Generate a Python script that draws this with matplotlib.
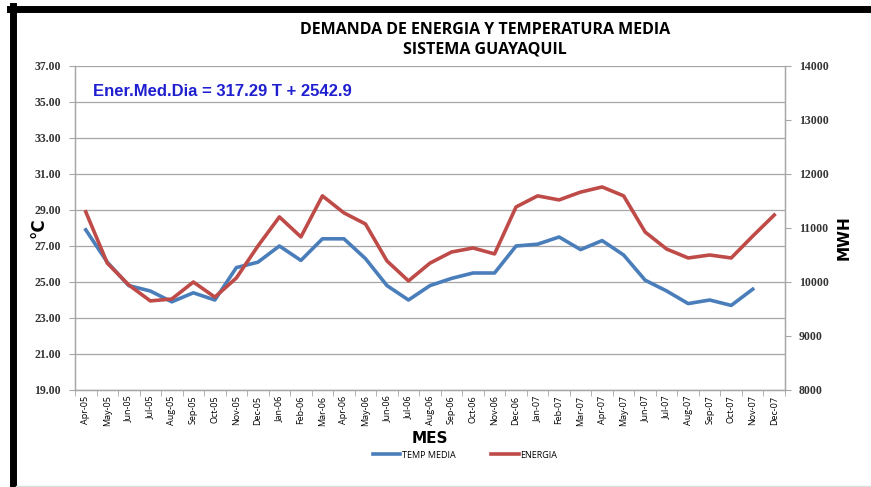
import matplotlib.pyplot as plt
from matplotlib.lines import Line2D

meses = ['Apr-05', 'May-05', 'Jun-05', 'Jul-05', 'Aug-05', 'Sep-05', 'Oct-05', 'Nov-05',
         'Dec-05', 'Jan-06', 'Feb-06', 'Mar-06', 'Apr-06', 'May-06', 'Jun-06', 'Jul-06',
         'Aug-06', 'Sep-06', 'Oct-06', 'Nov-06', 'Dec-06', 'Jan-07', 'Feb-07', 'Mar-07',
         'Apr-07', 'May-07', 'Jun-07', 'Jul-07', 'Aug-07', 'Sep-07', 'Oct-07', 'Nov-07',
         'Dec-07']

# temperatura media (C), no hay dato para Dec-07
temp_media = [27.9, 26.1, 24.8, 24.5, 23.9, 24.4, 24.0, 25.8, 26.1, 27.0, 26.2, 27.4,
              27.4, 26.3, 24.8, 24.0, 24.8, 25.2, 25.5, 25.5, 27.0, 27.1, 27.5, 26.8,
              27.3, 26.5, 25.1, 24.5, 23.8, 24.0, 23.7, 24.6]

# energia media diaria (MWH)
energia = [11300, 10350, 9945, 9650, 9685, 10000, 9720, 10075, 10665, 11205, 10835, 11595,
           11280, 11075, 10390, 10020, 10350, 10555, 10630, 10520, 11390, 11595, 11520, 11665,
           11760, 11595, 10925, 10610, 10445, 10500, 10445, 10850, 11240]

azul = '#4A7EBB'
rojo = '#BE4B48'
gris = '#A6A6A6'

fig = plt.figure(figsize=(8.71, 4.87), dpi=100)
ax = fig.add_axes([75/871, 97/487, 710/871, 324/487])
ax2 = ax.twinx()

x = list(range(len(meses)))
l1, = ax.plot(x[:len(temp_media)], temp_media, color=azul, lw=2.6, solid_joinstyle='round')
l2, = ax2.plot(x, energia, color=rojo, lw=2.6, solid_joinstyle='round')

ax.set_xlim(-0.5, len(meses) - 0.5)
ax.set_ylim(19, 37)
ax.set_yticks([19 + 2*i for i in range(10)])
ax.set_yticklabels(['%.2f' % (19 + 2*i) for i in range(10)], family='Liberation Serif',
                   fontsize=8.5, fontweight='bold', color='#333333')
ax.yaxis.grid(True, color=gris, lw=0.9)
ax.set_axisbelow(True)

ax2.set_ylim(8000, 14000)
ax2.set_yticks(range(8000, 14001, 1000))
ax2.set_yticklabels([str(v) for v in range(8000, 14001, 1000)], family='Liberation Serif',
                    fontsize=8.5, fontweight='bold', color='#333333')

ax.set_xticks(x)
ax.set_xticklabels(meses, rotation=90, fontsize=6.5, family='Open Sans')
ax.set_xticks([i - 0.5 for i in range(len(meses) + 1)], minor=True)
ax.tick_params(axis='x', which='major', length=0, pad=4)
ax.tick_params(axis='x', which='minor', length=4, color=gris)
ax.tick_params(axis='y', length=4, color=gris, pad=6)
ax2.tick_params(axis='y', length=4, color=gris, pad=6)

for a in (ax, ax2):
    a.spines['top'].set_visible(False)
    for s in ('left', 'right', 'bottom'):
        a.spines[s].set_color(gris)
        a.spines[s].set_linewidth(0.9)

ax.set_ylabel('°C', fontsize=12, fontweight='bold')
ax.yaxis.set_label_coords(-28/710, 0.50)
ax2.set_ylabel('MWH', fontsize=11, fontweight='bold')
ax2.yaxis.set_label_coords(1 + 52/710, 0.47)
ax.set_xlabel('MES', fontsize=11, fontweight='bold', labelpad=3)

ax.text(0.025, 0.92, 'Ener.Med.Dia = 317.29 T + 2542.9', transform=ax.transAxes,
        color='#1F1FD0', fontsize=12, fontweight='bold', family='Liberation Sans', va='center')

fig.text(485/871, 1 - 30/487, 'DEMANDA DE ENERGIA Y TEMPERATURA MEDIA', ha='center', va='center',
         fontsize=11.5, fontweight='bold', family='Open Sans')
fig.text(485/871, 1 - 50/487, 'SISTEMA GUAYAQUIL', ha='center', va='center',
         fontsize=11.5, fontweight='bold', family='Open Sans')

fig.legend([l1, l2], ['TEMP MEDIA', 'ENERGIA'], loc='center', bbox_to_anchor=(465/871, 1 - 455/487),
           ncol=2, frameon=False, prop={'family': 'Open Sans', 'size': 6.5}, handlelength=3.0,
           columnspacing=4, handletextpad=0.2)

# marco negro
fig.add_artist(Line2D([10/871, 1], [1 - 9/487, 1 - 9/487], color='black', lw=5, transform=fig.transFigure))
fig.add_artist(Line2D([13/871, 13/871], [0, 1 - 6/487], color='black', lw=5, transform=fig.transFigure))
fig.add_artist(Line2D([16/871, 1], [1/487, 1/487], color='#DDDDDD', lw=1, transform=fig.transFigure))

fig.savefig('out.png', dpi=100)
